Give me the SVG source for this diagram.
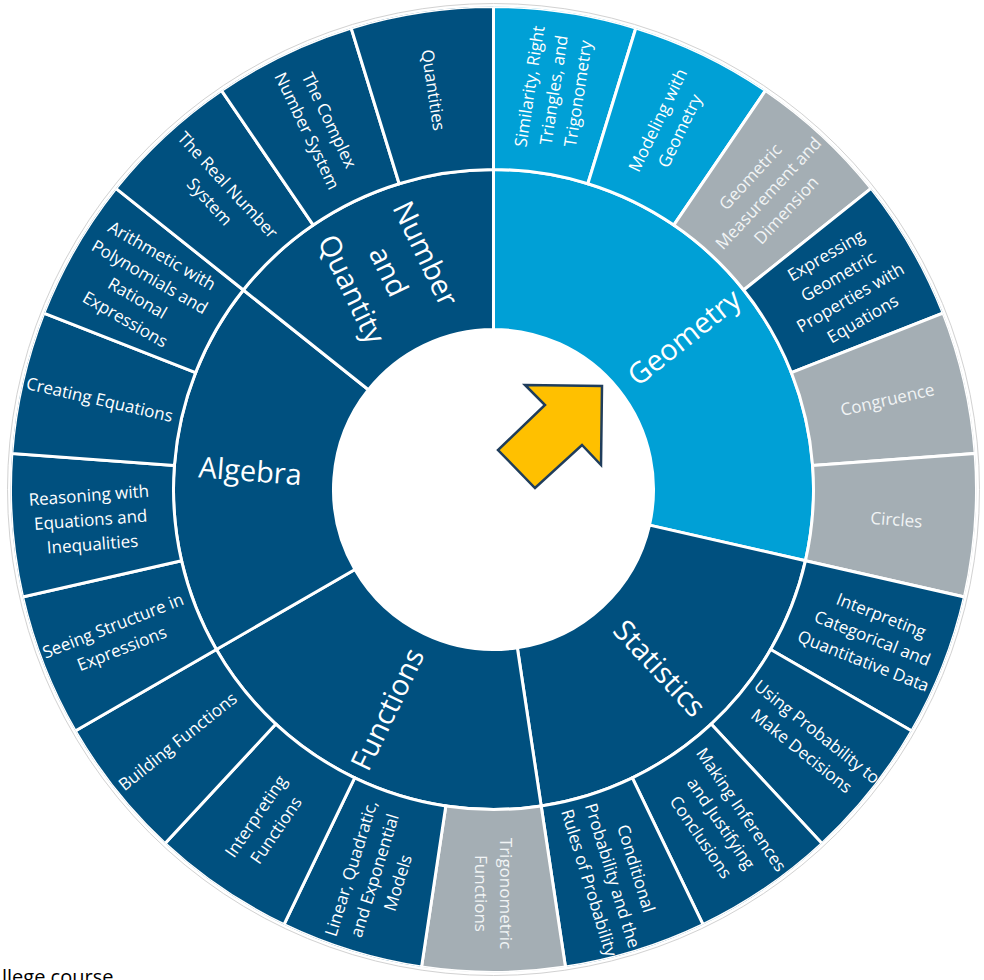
<svg xmlns="http://www.w3.org/2000/svg" xmlns:xlink="http://www.w3.org/1999/xlink" width="984" height="980" viewBox="0 0 984 980">
<style>
use{stroke:#fff;stroke-width:3;stroke-linejoin:miter}
.nv{fill:#00507f}
.lb{fill:#00a0d6}
.gr{fill:#a4aeb4}
text{font-family:"Open Sans","DejaVu Sans",sans-serif;fill:#fff;text-anchor:middle}
.o{font-size:17px}
.og{fill:#f1f4f5}
.m{font-size:29px}
</style>
<defs>
<path id="seg" d="M0,-320 L0,-483 A483,483 0 0 1 142.37,-461.54 L94.32,-305.78 A320,320 0 0 0 0,-320Z"/>
<path id="m6" d="M0,-160 L0,-320 A320,320 0 0 1 311.98,71.21 L155.99,35.6 A160,160 0 0 0 0,-160Z"/>
<path id="m4" d="M0,-160 L0,-320 A320,320 0 0 1 297.88,-116.91 L148.94,-58.45 A160,160 0 0 0 0,-160Z"/>
<path id="m3" d="M0,-160 L0,-320 A320,320 0 0 1 250.19,-199.52 L125.09,-99.76 A160,160 0 0 0 0,-160Z"/>
<clipPath id="clip"><circle cx="0" cy="0" r="483"/></clipPath>
</defs>
<rect width="984" height="980" fill="#fff"/>
<circle cx="493.5" cy="489.5" r="486" fill="none" stroke="#d2d2d2" stroke-width="1"/>
<g id="chart" transform="translate(493.5 489.5)" clip-path="url(#clip)">
<!-- middle ring -->
<g id="geometry"><use href="#m6" class="lb"/><text class="m" transform="rotate(51.429) translate(0 -244) rotate(-90)" y="10">Geometry</text></g>
<g id="statistics" transform="rotate(102.857)"><use href="#m4" class="nv"/><text class="m" transform="rotate(34.286) translate(0 -244) rotate(-90)" y="10">Statistics</text></g>
<g id="functions" transform="rotate(171.429)"><use href="#m4" class="nv"/><text class="m" transform="rotate(34.286) translate(0 -244) rotate(90)" y="10">Functions</text></g>
<g id="algebra" transform="rotate(240)"><use href="#m4" class="nv"/><text class="m" transform="rotate(34.286) translate(0 -244) rotate(90)" y="10">Algebra</text></g>
<g id="number-and-quantity" transform="rotate(308.571)"><use href="#m3" class="nv"/><text class="m" transform="rotate(25.714) translate(0 -242) rotate(90)"><tspan x="0" y="-31">Number</tspan><tspan x="0" y="10">and</tspan><tspan x="0" y="51">Quantity</tspan></text></g>
<!-- outer ring -->
<g id="similarity"><use href="#seg" class="lb"/><text class="o" transform="rotate(8.571) translate(0 -404) rotate(-90)"><tspan x="0" y="-18.5">Similarity, Right</tspan><tspan x="0" y="6">Triangles, and</tspan><tspan x="0" y="30.5">Trigonometry</tspan></text></g>
<g id="modeling" transform="rotate(17.143)"><use href="#seg" class="lb"/><text class="o" transform="rotate(8.571) translate(0 -404) rotate(-90)"><tspan x="0" y="-6.25">Modeling with</tspan><tspan x="0" y="18.25">Geometry</tspan></text></g>
<g id="measurement" transform="rotate(34.286)"><use href="#seg" class="gr"/><text class="o og" transform="rotate(8.571) translate(0 -404) rotate(-90)"><tspan x="0" y="-18.5">Geometric</tspan><tspan x="0" y="6">Measurement and</tspan><tspan x="0" y="30.5">Dimension</tspan></text></g>
<g id="expressing" transform="rotate(51.429)"><use href="#seg" class="nv"/><text class="o" transform="rotate(8.571) translate(0 -405) rotate(-90)"><tspan x="0" y="-30.75">Expressing</tspan><tspan x="0" y="-6.25">Geometric</tspan><tspan x="0" y="18.25">Properties with</tspan><tspan x="0" y="42.75">Equations</tspan></text></g>
<g id="congruence" transform="rotate(68.571)"><use href="#seg" class="gr"/><text class="o og" transform="rotate(8.571) translate(0 -404) rotate(-90)" y="6">Congruence</text></g>
<g id="circles" transform="rotate(85.714)"><use href="#seg" class="gr"/><text class="o og" transform="rotate(8.571) translate(0 -404) rotate(-90)" y="6">Circles</text></g>
<g id="interpreting-data" transform="rotate(102.857)"><use href="#seg" class="nv"/><text class="o" transform="rotate(8.571) translate(0 -407) rotate(-90)"><tspan x="0" y="-18.5">Interpreting</tspan><tspan x="0" y="6">Categorical and</tspan><tspan x="0" y="30.5">Quantitative Data</tspan></text></g>
<g id="using-probability" transform="rotate(120)"><use href="#seg" class="nv"/><text class="o" transform="rotate(8.571) translate(0 -404) rotate(-90)"><tspan x="0" y="-6.25">Using Probability to</tspan><tspan x="0" y="18.25">Make Decisions</tspan></text></g>
<g id="making-inferences" transform="rotate(137.143)"><use href="#seg" class="nv"/><text class="o" transform="rotate(8.571) translate(0 -404) rotate(-90)"><tspan x="0" y="-18.5">Making Inferences</tspan><tspan x="0" y="6">and Justifying</tspan><tspan x="0" y="30.5">Conclusions</tspan></text></g>
<g id="conditional-probability" transform="rotate(154.286)"><use href="#seg" class="nv"/><text class="o" transform="rotate(8.571) translate(0 -404) rotate(-90)"><tspan x="0" y="-18.5">Conditional</tspan><tspan x="0" y="6">Probability and the</tspan><tspan x="0" y="30.5">Rules of Probability</tspan></text></g>
<g id="trigonometric-functions" transform="rotate(171.429)"><use href="#seg" class="gr"/><text class="o og" transform="rotate(8.571) translate(0 -404) rotate(-90)"><tspan x="0" y="-6.25">Trigonometric</tspan><tspan x="0" y="18.25">Functions</tspan></text></g>
<g id="linear-models" transform="rotate(188.571)"><use href="#seg" class="nv"/><text class="o" transform="rotate(8.571) translate(0 -404) rotate(90)"><tspan x="0" y="-18.5">Linear, Quadratic,</tspan><tspan x="0" y="6">and Exponential</tspan><tspan x="0" y="30.5">Models</tspan></text></g>
<g id="interpreting-functions" transform="rotate(205.714)"><use href="#seg" class="nv"/><text class="o" transform="rotate(8.571) translate(0 -404) rotate(90)"><tspan x="0" y="-6.25">Interpreting</tspan><tspan x="0" y="18.25">Functions</tspan></text></g>
<g id="building-functions" transform="rotate(222.857)"><use href="#seg" class="nv"/><text class="o" transform="rotate(8.571) translate(0 -404) rotate(90)" y="6">Building Functions</text></g>
<g id="seeing-structure" transform="rotate(240)"><use href="#seg" class="nv"/><text class="o" transform="rotate(8.571) translate(0 -404) rotate(90)"><tspan x="0" y="-6.25">Seeing Structure in</tspan><tspan x="0" y="18.25">Expressions</tspan></text></g>
<g id="reasoning" transform="rotate(257.143)"><use href="#seg" class="nv"/><text class="o" transform="rotate(8.571) translate(0 -404) rotate(90)"><tspan x="0" y="-18.5">Reasoning with</tspan><tspan x="0" y="6">Equations and</tspan><tspan x="0" y="30.5">Inequalities</tspan></text></g>
<g id="creating-equations" transform="rotate(274.286)"><use href="#seg" class="nv"/><text class="o" transform="rotate(8.571) translate(0 -404) rotate(90)" y="6">Creating Equations</text></g>
<g id="arithmetic" transform="rotate(291.429)"><use href="#seg" class="nv"/><text class="o" transform="rotate(8.571) translate(0 -404) rotate(90)"><tspan x="0" y="-30.75">Arithmetic with</tspan><tspan x="0" y="-6.25">Polynomials and</tspan><tspan x="0" y="18.25">Rational</tspan><tspan x="0" y="42.75">Expressions</tspan></text></g>
<g id="real-number" transform="rotate(308.571)"><use href="#seg" class="nv"/><text class="o" transform="rotate(8.571) translate(0 -404) rotate(90)"><tspan x="0" y="-6.25">The Real Number</tspan><tspan x="0" y="18.25">System</tspan></text></g>
<g id="complex-number" transform="rotate(325.714)"><use href="#seg" class="nv"/><text class="o" transform="rotate(8.571) translate(0 -404) rotate(90)"><tspan x="0" y="-6.25">The Complex</tspan><tspan x="0" y="18.25">Number System</tspan></text></g>
<g id="quantities" transform="rotate(342.857)"><use href="#seg" class="nv"/><text class="o" transform="rotate(8.571) translate(0 -404) rotate(90)" y="6">Quantities</text></g>
</g>
<g id="arrow"><polygon points="525,385 602,386 601,465 582,445 535,488 498,450 545,405" fill="#ffc000" stroke="#1f3d5c" stroke-width="2.5" stroke-linejoin="miter"/></g>
<g id="connectors"/>
<text x="2" y="984" style="font-family:'Open Sans','Liberation Sans',sans-serif;font-size:20px;fill:#000;text-anchor:start">llege course</text>
</svg>
